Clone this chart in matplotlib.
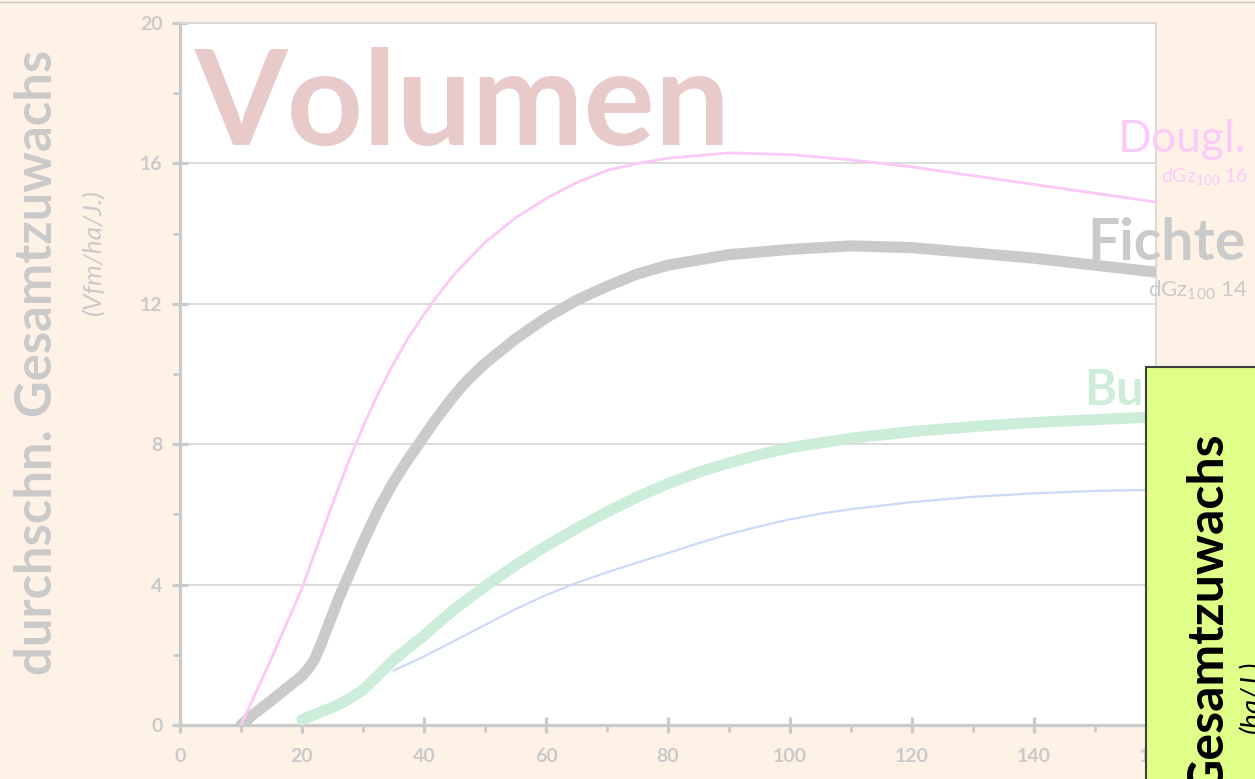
import matplotlib
matplotlib.use("Agg")
import matplotlib.pyplot as plt
from matplotlib.patches import Rectangle
from matplotlib.lines import Line2D

# Alter (Jahre) und durchschn. Gesamtzuwachs (Vfm/ha/J.)
alterDougl = [10, 12.5, 15, 17.5, 20, 22.5, 25, 27.5, 30, 32.5, 35, 37.5, 40, 42.5, 45, 50, 55, 60, 65, 70,
              75, 80, 90, 100, 110, 120, 130, 140, 150, 160]
dougl = [0, 0.95, 1.9, 2.9, 3.9, 5.1, 6.3, 7.45, 8.5, 9.45, 10.3, 11.05, 11.7, 12.3, 12.85, 13.75, 14.45,
         15.0, 15.45, 15.8, 16.0, 16.15, 16.3, 16.25, 16.1, 15.9, 15.65, 15.4, 15.15, 14.9]

alterFichte = [10, 12, 15, 17.5, 20, 21, 22, 23, 24, 26, 28, 30, 32, 33, 35, 37, 39, 42, 45, 47, 50, 55,
               60, 65, 70, 75, 80, 90, 100, 110, 120, 130, 140, 150, 160]
fichte = [0, 0.3, 0.7, 1.05, 1.4, 1.6, 1.85, 2.25, 2.7, 3.6, 4.4, 5.2, 5.95, 6.3, 6.92, 7.47, 7.97, 8.72,
          9.4, 9.8, 10.3, 11.0, 11.6, 12.1, 12.5, 12.85, 13.1, 13.4, 13.55, 13.65, 13.6, 13.45, 13.3, 13.1,
          12.9]

alterBuche = [20, 22.5, 25, 27.5, 30, 32.5, 35, 37.5, 40, 45, 50, 55, 60, 65, 70, 75, 80, 85, 90, 95, 100,
              110, 120, 130, 140, 150, 160]
buche = [0.15, 0.33, 0.5, 0.72, 1.0, 1.42, 1.85, 2.2, 2.55, 3.3, 3.95, 4.55, 5.1, 5.6, 6.07, 6.5, 6.88,
         7.2, 7.47, 7.7, 7.9, 8.17, 8.36, 8.5, 8.62, 8.7, 8.78]

alterKiefer = [35, 37.5, 40, 45, 50, 55, 60, 65, 70, 75, 80, 85, 90, 95, 100, 105, 110, 120, 130, 140, 150,
               160]
kiefer = [1.55, 1.75, 1.95, 2.4, 2.85, 3.3, 3.7, 4.05, 4.35, 4.63, 4.9, 5.18, 5.44, 5.66, 5.86, 6.02, 6.15,
          6.35, 6.5, 6.6, 6.67, 6.7]

xTicks = [0, 20, 40, 60, 80, 100, 120, 140, 160]
yTicks = [0, 4, 8, 12, 16, 20]

W, H = 1255, 779
GRAU = "#CACACA"
plt.rcParams["font.family"] = ["Lato", "DejaVu Sans"]


def fx(px):
    return px / W


def fy(py):
    return 1 - py / H


fig = plt.figure(figsize=(W / 100, H / 100), dpi=100)
fig.patch.set_facecolor("#FEF1E6")
ax = fig.add_axes([fx(180), fy(725), fx(1156) - fx(180), fy(23) - fy(725)])
ax.set_facecolor("white")

ax.plot(alterKiefer, kiefer, color="#CCDAF8", lw=1.6, zorder=3)
ax.plot(alterBuche, buche, color="#CBEDD9", lw=8, solid_capstyle="round", solid_joinstyle="round", zorder=4)
ax.plot(alterFichte, fichte, color=GRAU, lw=8, solid_capstyle="round", solid_joinstyle="round", zorder=5)
ax.plot(alterDougl, dougl, color="#FBC9F8", lw=2, zorder=6)

ax.set_xlim(0, 160)
ax.set_ylim(0, 20)
ax.set_xticks(xTicks)
ax.set_yticks(yTicks)
ax.set_xticks(range(10, 160, 20), minor=True)
ax.set_yticks(range(2, 20, 4), minor=True)
ax.yaxis.grid(True, color="#D9D9D9", lw=1.3)
ax.set_axisbelow(True)
for s in ["left", "bottom"]:
    ax.spines[s].set_color(GRAU)
    ax.spines[s].set_linewidth(2.3)
for s in ["top", "right"]:
    ax.spines[s].set_color("#D9D9D9")
    ax.spines[s].set_linewidth(1.3)
ax.tick_params(which="major", direction="inout", length=11, width=2.3, color=GRAU,
               labelcolor=GRAU, labelsize=14)
ax.tick_params(which="minor", direction="out", length=5, width=2, color=GRAU)
ax.tick_params(axis="y", which="major", pad=7)
ax.tick_params(axis="x", which="major", pad=11)
for lab in ax.get_xticklabels() + ax.get_yticklabels():
    lab.set_fontweight("bold")

# Texte im Diagramm
fig.text(fx(195), fy(145), "Volumen", fontsize=96, fontweight="bold", color="#E9CACA",
         ha="left", va="baseline", zorder=2)
fig.text(fx(1246), fy(152), "Dougl.", fontsize=32, color="#FCCBFA", ha="right", va="baseline")
fig.text(fx(1248), fy(183), r"dGz$_\mathregular{100}$ 16", fontsize=14, color="#FCCBFA",
         ha="right", va="baseline")
fig.text(fx(1246), fy(260), "Fichte", fontsize=41, fontweight="bold", color=GRAU,
         ha="right", va="baseline")
fig.text(fx(1248), fy(296), r"dGz$_\mathregular{100}$ 14", fontsize=16, color=GRAU,
         ha="right", va="baseline")
fig.text(fx(1084), fy(405), "Buche", fontsize=35, fontweight="bold", color="#CBEDD9",
         ha="left", va="baseline")

# Achsenbeschriftung
fig.text(fx(38), fy(362), "durchschn. Gesamtzuwachs", fontsize=36.5, fontweight="bold", color=GRAU,
         rotation=90, ha="center", va="center")
fig.text(fx(94), fy(252), "(Vfm/ha/J.)", fontsize=19, style="italic", color=GRAU,
         rotation=90, ha="center", va="center")

# gelbe Box rechts unten
fig.patches.append(Rectangle((fx(1146), fy(790)), fx(1270) - fx(1146), fy(367) - fy(790),
                             transform=fig.transFigure, facecolor="#E0FF88", edgecolor="#404040",
                             lw=1.5, zorder=10))
fig.text(fx(1208), fy(432), "Gesamtzuwachs", fontsize=36, fontweight="bold", color="black",
         rotation=90, ha="center", va="top", zorder=11)
fig.text(fx(1239), fy(733), "(ha/J.)", fontsize=20, style="italic", color="black",
         rotation=90, ha="left", va="bottom", zorder=11)

fig.lines.append(Line2D([0, 1], [fy(2), fy(2)], transform=fig.transFigure, color="#C8C8C8", lw=1))

fig.savefig("out.png", dpi=100, facecolor=fig.get_facecolor())
